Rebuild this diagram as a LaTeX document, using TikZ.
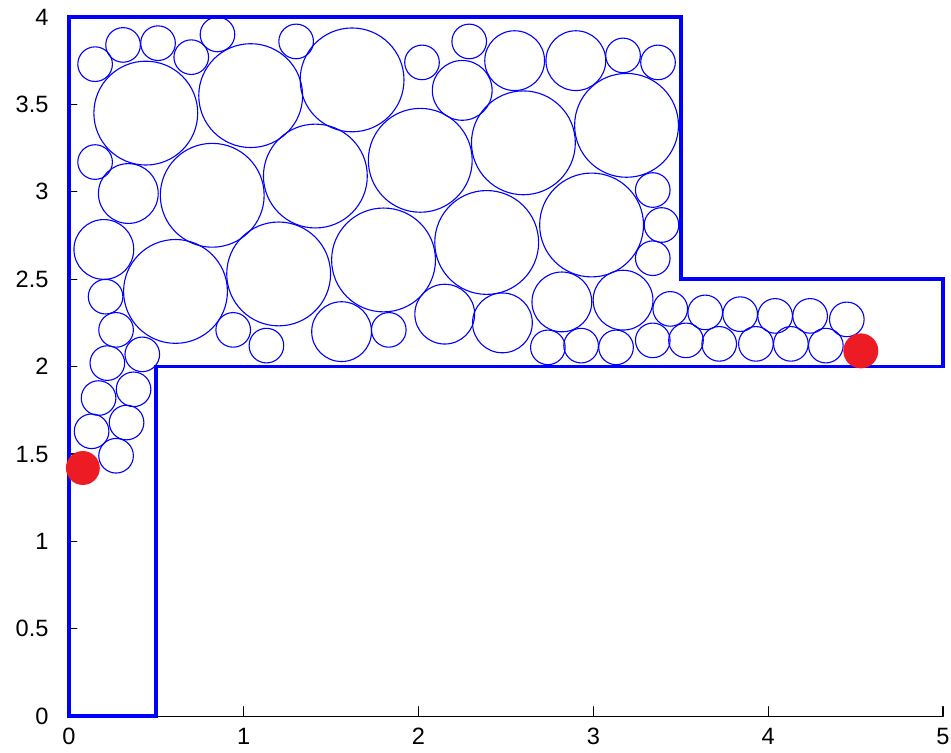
\documentclass[tikz,border=0pt]{standalone}
\usepackage{fontspec}
\setmainfont{Liberation Sans}
\usepackage{xcolor}
\usetikzlibrary{arrows.meta, positioning}
\definecolor{packblue}{RGB}{0,0,255}
\definecolor{dotred}{RGB}{237,28,36}

\begin{document}
\begin{tikzpicture}[x=2.5cm, y=2.5cm, line cap=round, line join=round,
    pack/.style={draw=packblue, line width=0.45pt},
    wall/.style={draw=packblue, line width=1.5pt, line join=miter, line cap=rect},
    axisline/.style={black, line width=0.45pt},
    ticklabel/.style={font=\fontsize{9.6}{11}\selectfont, inner sep=1pt}]
    \useasboundingbox (-0.394,-0.206) rectangle (5.046,4.097);

    % Axes
    \draw[axisline] (0,0) -- (5,0);
    \draw[axisline] (0,0) -- (0,4);
    \foreach \x in {0,...,5}{
        \draw[axisline] (\x,0) -- (\x,0.055);
        \node[ticklabel, below] (xlab\x) at (\x,-0.05) {\x};
    }
    \foreach \y [count=\i] in {0,0.5,1,1.5,2,2.5,3,3.5,4}{
        \draw[axisline] (0,\y) -- (0.045,\y);
        \node[ticklabel, anchor=east] (ylab\i) at (-0.1,\y) {\y};
    }

    % Large circles
    \foreach \x/\y in {
        0.44/3.45,
        1.04/3.55,
        1.62/3.64,
        2.60/3.28,
        2.01/3.18,
        3.19/3.38,
        1.41/3.09,
        0.82/2.98,
        0.61/2.43,
        1.20/2.53,
        1.80/2.61,
        2.39/2.71,
        2.99/2.81
    }{
        \draw[pack] (\x,\y) circle (0.297);
    }

    % Medium circles
    \foreach \x/\y in {
        2.25/3.58,
        2.55/3.75,
        2.90/3.75,
        0.34/2.99,
        0.20/2.67,
        1.56/2.20,
        2.15/2.30,
        2.48/2.25,
        2.82/2.37,
        3.17/2.38
    }{
        \draw[pack] (\x,\y) circle (0.171);
    }

    % Small circles
    \foreach \x/\y in {
        0.15/3.73,
        0.31/3.84,
        0.51/3.85,
        0.70/3.77,
        0.85/3.90,
        1.30/3.86,
        2.02/3.74,
        2.29/3.86,
        3.17/3.78,
        3.37/3.74,
        0.15/3.17,
        0.21/2.40,
        0.27/2.21,
        0.94/2.21,
        1.13/2.12,
        0.42/2.07,
        0.22/2.02,
        0.37/1.87,
        0.17/1.82,
        0.33/1.68,
        0.13/1.63,
        0.27/1.49,
        1.83/2.21,
        3.34/3.01,
        3.39/2.81,
        3.34/2.62,
        2.74/2.11,
        2.93/2.12,
        3.13/2.11,
        3.34/2.15,
        3.44/2.33,
        3.53/2.15,
        3.64/2.31,
        3.72/2.13,
        3.84/2.30,
        3.93/2.13,
        4.04/2.29,
        4.13/2.13,
        4.24/2.29,
        4.33/2.12,
        4.45/2.27
    }{
        \draw[pack] (\x,\y) circle (0.099);
    }

    % Domain boundary
    \draw[wall] (0,0) -- (0,4) -- (3.5,4) -- (3.5,2.5) -- (5,2.5)
        -- (5,2) -- (0.5,2) -- (0.5,0) -- cycle;

    % End points
    \fill[dotred] (0.08,1.42) circle (0.097);
    \fill[dotred] (4.53,2.09) circle (0.1);

\end{tikzpicture}
\end{document}
